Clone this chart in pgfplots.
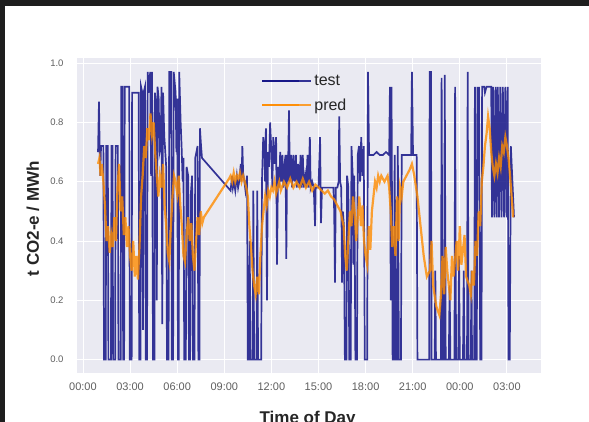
\documentclass[border=0pt]{standalone}
\usepackage{pgfplots}
\pgfplotsset{compat=1.18}
\usepackage{fontspec}
\setmainfont{Liberation Sans}
\definecolor{bgc}{HTML}{EAEAF2}
\definecolor{testc}{RGB}{20,20,135}
\definecolor{predc}{RGB}{255,140,0}
\definecolor{tickc}{RGB}{95,95,95}
\definecolor{labc}{RGB}{38,38,38}
\definecolor{band}{HTML}{1E1E1E}
\begin{document}
\begin{tikzpicture}
\useasboundingbox (0pt,0pt) rectangle (589pt,422pt);
\fill[white] (0pt,0pt) rectangle (589pt,422pt);
\fill[band] (0pt,416pt) rectangle (589pt,422pt);
\fill[band] (0pt,0pt) rectangle (4.5pt,422pt);
\begin{axis}[
  at={(77pt,49pt)}, anchor=south west,
  width=464pt, height=315pt, scale only axis,
  xmin=-0.38, xmax=29.17, ymin=-0.045, ymax=1.017,
  axis background/.style={fill=bgc},
  axis line style={draw=none},
  grid=major, major grid style={white, line width=0.9pt},
  tick style={draw=none},
  xtick={0,3,...,27},
  xticklabels={00:00,03:00,06:00,09:00,12:00,15:00,18:00,21:00,00:00,03:00},
  ytick={0,0.2,0.4,0.6,0.8,1.0},
  yticklabels={0.0,0.2,0.4,0.6,0.8,1.0},
  xticklabel style={font=\fontsize{11}{12}\selectfont, text=tickc, yshift=-6pt},
  yticklabel style={font=\fontsize{9.5}{11}\selectfont, text=tickc, xshift=-10pt},
  xlabel={Time of Day}, ylabel={t CO2-e / MWh},
  xlabel style={font=\bfseries\fontsize{17}{20}\selectfont, text=labc, at={(axis description cs:0.497,0)}, anchor=center, yshift=-46pt},
  ylabel style={font=\bfseries\fontsize{17}{20}\selectfont, text=labc, at={(axis description cs:-0.095,0.49)}, anchor=center},
  legend style={at={(axis description cs:0.39,0.96)}, anchor=north west, draw=none, fill=none, font=\fontsize{16}{18}\selectfont, text=labc, row sep=8pt},
  legend cell align=left,
  legend image code/.code={\draw[#1] (0pt,0pt) -- (37pt,0pt); \path (0pt,0pt) -- (49pt,0pt);},
]
\addplot[testc, opacity=0.85, line width=1.7pt] coordinates {
(0.96,0.70) (1.02,0.87) (1.06,0.72) (1.10,0.62) (1.15,0.72) (1.30,0.72) (1.34,0.00) (1.45,0.00) (1.48,0.72) (1.58,0.72) (1.62,0.00) (1.78,0.00) (1.82,0.72) (1.88,0.72) (1.92,0.00) (2.05,0.00) (2.08,0.72) (2.22,0.72) (2.26,0.00) (2.40,0.00) (2.44,0.92) (2.52,0.92) (2.56,0.00) (2.62,0.00) (2.66,0.92) (2.95,0.92) (2.98,0.00) (3.10,0.00) (3.13,0.90) (3.55,0.90) (3.58,0.00) (3.66,0.00) (3.70,0.92) (3.78,0.90) (3.82,0.10) (3.86,0.90) (3.95,0.92) (4.00,0.00) (4.08,0.00) (4.12,0.97) (4.22,0.90) (4.28,0.97) (4.34,0.62) (4.40,0.97) (4.46,0.00) (4.55,0.00) (4.58,0.90) (4.66,0.85) (4.70,0.20) (4.75,0.92) (4.82,0.88) (4.88,0.70) (4.95,0.72)
(5.00,0.92) (5.05,0.12) (5.10,0.90) (5.18,0.75) (5.22,0.72) (5.30,0.65) (5.35,0.00) (5.45,0.00) (5.50,0.97) (5.62,0.97) (5.66,0.00) (5.74,0.00) (5.78,0.97) (5.90,0.90) (5.95,0.70) (6.00,0.88) (6.05,0.00) (6.10,0.00) (6.13,0.97) (6.22,0.80) (6.28,0.72) (6.35,0.60) (6.40,0.68) (6.45,0.00) (6.55,0.00) (6.60,0.65) (6.70,0.62) (6.75,0.00) (6.82,0.00) (6.86,0.55) (6.95,0.62) (7.00,0.00) (7.10,0.00) (7.15,0.68) (7.30,0.72) (7.35,0.00) (7.42,0.00) (7.45,0.78) (7.52,0.72) (7.58,0.68)
(9.40,0.57) (9.50,0.62) (9.55,0.58) (9.62,0.60) (9.70,0.57) (9.80,0.62) (9.88,0.58) (9.95,0.60) (10.05,0.66) (10.10,0.60) (10.15,0.72) (10.20,0.63) (10.28,0.60) (10.35,0.57) (10.45,0.62) (10.50,0.00) (10.58,0.00) (10.62,0.40) (10.66,0.00) (10.80,0.00) (10.85,0.57) (10.90,0.00) (11.05,0.00) (11.10,0.57) (11.15,0.00) (11.35,0.00) (11.40,0.60) (11.48,0.75) (11.55,0.72) (11.60,0.60) (11.65,0.78) (11.72,0.20) (11.78,0.70) (11.85,0.65) (11.92,0.80) (12.00,0.70) (12.06,0.58) (12.12,0.75) (12.20,0.66) (12.30,0.75) (12.36,0.32) (12.42,0.65) (12.50,0.58) (12.56,0.70) (12.62,0.60) (12.70,0.69) (12.76,0.58) (12.82,0.65) (12.90,0.69) (12.95,0.34) (13.00,0.69) (13.05,0.60) (13.12,0.84) (13.18,0.60) (13.25,0.69) (13.32,0.58) (13.40,0.69) (13.48,0.60) (13.56,0.69) (13.62,0.58) (13.70,0.66) (13.78,0.58) (13.86,0.69) (13.92,0.58) (14.00,0.69) (14.06,0.58) (14.15,0.62) (14.22,0.58) (14.30,0.69) (14.36,0.58) (14.45,0.75) (14.50,0.58) (14.60,0.60) (14.70,0.58) (14.78,0.45) (14.82,0.58)
(15.00,0.58) (15.10,0.75) (15.16,0.46) (15.22,0.58) (15.40,0.58) (15.60,0.58) (15.80,0.58) (15.95,0.58) (16.00,0.50) (16.05,0.26) (16.10,0.58) (16.20,0.58) (16.28,0.60) (16.32,0.82) (16.38,0.60) (16.45,0.58) (16.50,0.26) (16.55,0.50) (16.62,0.45) (16.68,0.00) (16.78,0.00) (16.82,0.62) (16.90,0.58) (16.96,0.00) (17.05,0.00) (17.10,0.72) (17.18,0.62) (17.22,0.32) (17.28,0.62) (17.35,0.00) (17.45,0.00) (17.50,0.69) (17.58,0.72) (17.65,0.60) (17.72,0.75) (17.80,0.62) (17.88,0.72) (17.95,0.00) (18.10,0.00) (18.15,0.97) (18.22,0.69)
(18.30,0.69) (18.50,0.69) (18.70,0.70) (18.90,0.69) (19.10,0.69) (19.30,0.70) (19.50,0.69) (19.55,0.92) (19.60,0.20) (19.65,0.92) (19.72,0.00) (19.80,0.00) (19.85,0.69) (19.92,0.00) (20.00,0.00) (20.05,0.72) (20.12,0.00) (20.25,0.00) (20.30,0.69) (20.40,0.69) (20.60,0.69) (20.80,0.69) (20.90,0.69) (20.95,0.97) (21.02,0.69) (21.10,0.69) (21.25,0.69)
(21.30,0.00) (21.65,0.00) (22.05,0.00) (22.08,0.97) (22.16,0.97) (22.20,0.00) (22.40,0.00) (22.44,0.30) (22.48,0.00) (22.80,0.00) (22.84,0.95) (22.90,0.00) (23.00,0.00) (23.04,0.96) (23.10,0.00) (23.30,0.00) (23.35,0.25) (23.40,0.00) (23.66,0.00) (23.70,0.92) (23.76,0.00) (23.90,0.00) (23.95,0.35) (24.00,0.00) (24.20,0.00) (24.25,0.30) (24.30,0.00) (24.46,0.00) (24.50,0.97) (24.56,0.00) (24.70,0.00) (24.74,0.30) (24.78,0.00) (24.92,0.00) (24.96,0.92) (25.02,0.00) (25.08,0.00) (25.12,0.92) (25.18,0.62) (25.22,0.92) (25.30,0.00) (25.38,0.00) (25.42,0.92) (25.55,0.92) (25.60,0.90) (25.70,0.92) (26.00,0.92) (26.05,0.48) (26.12,0.92) (26.20,0.48) (26.28,0.92) (26.35,0.48) (26.42,0.92) (26.50,0.48) (26.58,0.92) (26.66,0.48) (26.74,0.92) (26.82,0.48) (26.90,0.92) (26.98,0.48) (27.05,0.92) (27.10,0.00) (27.18,0.00) (27.25,0.72) (27.35,0.60) (27.45,0.48)
};
\addlegendentry{test}
\addplot[predc, opacity=0.8, line width=2.2pt] coordinates {
(0.96,0.66) (1.05,0.68) (1.12,0.62) (1.20,0.66) (1.30,0.60) (1.40,0.52) (1.50,0.40) (1.60,0.45) (1.70,0.36) (1.80,0.42) (1.90,0.38) (2.00,0.48) (2.10,0.40) (2.20,0.58) (2.30,0.66) (2.40,0.50) (2.50,0.55) (2.60,0.42) (2.70,0.48) (2.80,0.38) (2.90,0.45) (3.00,0.35) (3.10,0.30) (3.20,0.40) (3.30,0.28) (3.40,0.35) (3.50,0.27) (3.60,0.38) (3.70,0.55) (3.80,0.62) (3.90,0.72) (4.00,0.68) (4.10,0.78) (4.20,0.74) (4.30,0.83) (4.40,0.76) (4.50,0.80) (4.60,0.70) (4.70,0.62) (4.80,0.55) (4.90,0.62)
(5.00,0.58) (5.10,0.66) (5.20,0.52) (5.30,0.45) (5.40,0.36) (5.50,0.33) (5.60,0.45) (5.70,0.55) (5.80,0.62) (5.90,0.60) (6.00,0.56) (6.10,0.62) (6.20,0.52) (6.30,0.45) (6.40,0.35) (6.50,0.33) (6.60,0.42) (6.70,0.48) (6.80,0.40) (6.90,0.46) (7.00,0.35) (7.10,0.30) (7.20,0.40) (7.30,0.48) (7.40,0.42) (7.50,0.50) (7.60,0.46) (7.70,0.48)
(9.30,0.61) (9.40,0.62) (9.50,0.60) (9.60,0.63) (9.70,0.60) (9.80,0.62) (9.90,0.61) (10.00,0.63) (10.10,0.60) (10.20,0.62) (10.30,0.60) (10.40,0.58) (10.50,0.55) (10.60,0.45) (10.70,0.38) (10.80,0.30) (10.90,0.25) (11.00,0.22) (11.10,0.28) (11.20,0.22) (11.30,0.35) (11.40,0.45) (11.50,0.50) (11.60,0.55) (11.70,0.52) (11.80,0.57) (11.90,0.55) (12.00,0.58) (12.10,0.57) (12.20,0.60) (12.30,0.56) (12.40,0.58) (12.50,0.60) (12.60,0.57) (12.80,0.60) (13.00,0.58) (13.20,0.61) (13.40,0.58) (13.60,0.60) (13.80,0.58) (14.00,0.61) (14.20,0.58) (14.40,0.60) (14.60,0.57) (14.80,0.59)
(15.00,0.58) (15.20,0.57) (15.40,0.56) (15.60,0.57) (15.80,0.55) (16.00,0.54) (16.20,0.52) (16.40,0.50) (16.60,0.45) (16.70,0.35) (16.80,0.30) (16.90,0.40) (17.00,0.50) (17.10,0.45) (17.20,0.55) (17.30,0.50) (17.40,0.40) (17.50,0.48) (17.60,0.55) (17.70,0.45) (17.80,0.52) (17.90,0.40) (18.00,0.35) (18.10,0.32) (18.20,0.45) (18.30,0.37) (18.40,0.50) (18.50,0.55) (18.60,0.60) (18.70,0.58) (18.80,0.62) (18.90,0.60) (19.00,0.62) (19.20,0.60) (19.40,0.62) (19.50,0.58) (19.60,0.50) (19.70,0.38) (19.80,0.45) (19.90,0.35) (20.00,0.55) (20.10,0.40) (20.20,0.58) (20.30,0.55) (20.40,0.60) (20.60,0.62) (20.80,0.64) (20.95,0.66)
(21.10,0.62) (21.30,0.55) (21.50,0.45) (21.70,0.35) (21.90,0.28) (22.10,0.30) (22.20,0.40) (22.30,0.25) (22.50,0.18) (22.70,0.15) (22.80,0.22) (22.90,0.35) (23.00,0.22) (23.10,0.38) (23.20,0.30) (23.40,0.20) (23.50,0.35) (23.60,0.28) (23.80,0.40) (23.90,0.30) (24.00,0.45) (24.10,0.32) (24.30,0.42) (24.40,0.28) (24.60,0.25) (24.70,0.22) (24.80,0.30) (24.90,0.25) (25.00,0.40) (25.10,0.35) (25.20,0.50) (25.30,0.45) (25.40,0.60) (25.50,0.65) (25.60,0.72) (25.70,0.76) (25.80,0.82) (25.90,0.78) (26.00,0.70) (26.10,0.65) (26.20,0.62) (26.30,0.66) (26.40,0.63) (26.50,0.68) (26.60,0.65) (26.70,0.72) (26.80,0.70) (26.90,0.75) (27.00,0.72) (27.10,0.68) (27.20,0.62) (27.30,0.55) (27.40,0.48)
};
\addlegendentry{pred}
\end{axis}
\end{tikzpicture}
\end{document}
